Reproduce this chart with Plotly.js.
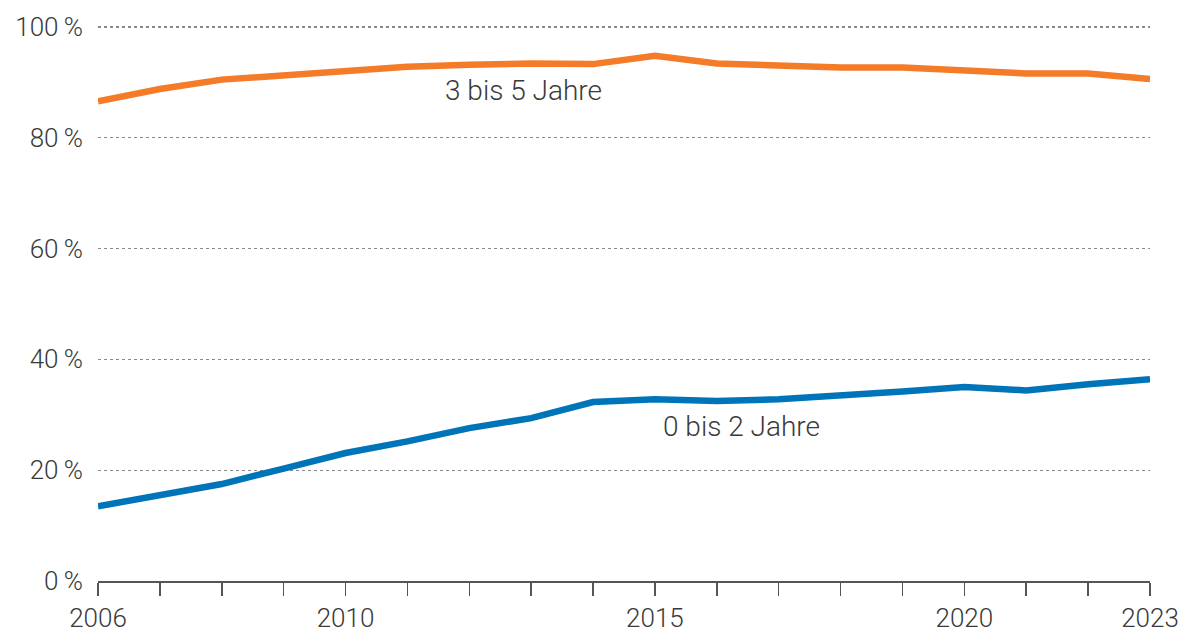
<!DOCTYPE html>
<html>
<head>
<meta charset="utf-8">
<script src="https://cdn.plot.ly/plotly-3.0.1.min.js"></script>
<style>html,body{margin:0;padding:0;background:#fff;}#chart{width:1191px;height:632px;}</style>
</head>
<body>
<div id="chart"></div>
<script>
const years = [2006,2007,2008,2009,2010,2011,2012,2013,2014,2015,2016,2017,2018,2019,2020,2021,2022,2023];
const age3to5 = [86.6,88.8,90.5,91.3,92.1,92.8,93.2,93.4,93.3,94.8,93.4,93.1,92.7,92.7,92.2,91.6,91.6,90.6];
const age0to2 = [13.5,15.5,17.5,20.3,23.1,25.2,27.6,29.4,32.3,32.8,32.5,32.8,33.4,34.2,35.0,34.4,35.5,36.4];
const seriesNames = ["3 bis 5 Jahre","0 bis 2 Jahre"];
const xTickLabels = {2006:"2006",2010:"2010",2015:"2015",2020:"2020",2023:"2023"};
const yTicks = [0,20,40,60,80,100];

const FONT = "Roboto, 'Open Sans', sans-serif";
const TXT = "#3a3a3a";

const traces = [
  {x: years, y: age3to5, name: seriesNames[0], mode: "lines", line: {color: "#F47B28", width: 6.5}, hoverinfo: "skip"},
  {x: years, y: age0to2, name: seriesNames[1], mode: "lines", line: {color: "#0074B8", width: 6.5}, hoverinfo: "skip"}
];

const layout = {
  width: 1191, height: 632,
  margin: {l: 98, r: 41, t: 21, b: 51, pad: 0},
  paper_bgcolor: "#fff", plot_bgcolor: "#fff",
  showlegend: false,
  font: {family: FONT, color: TXT, size: 26, weight: 300},
  xaxis: {
    range: [2006, 2023],
    tickmode: "array",
    tickvals: years,
    ticktext: years.map(y => xTickLabels[y] || ""),
    ticks: "outside", ticklen: 13, tickwidth: 1.5, tickcolor: "#555",
    showline: true, linecolor: "#555", linewidth: 1.5,
    showgrid: false, zeroline: false,
    tickfont: {family: FONT, size: 26, color: TXT, weight: 300},
    fixedrange: true
  },
  yaxis: {
    range: [0, 101.08],
    tickmode: "array",
    tickvals: yTicks,
    ticktext: yTicks.map(v => v + "\u2009%"),
    ticks: "", ticklabelstandoff: 14,
    showgrid: true, gridcolor: "#8a8a8a", gridwidth: 1.2, griddash: "3px,3px",
    zeroline: false, showline: false,
    tickfont: {family: FONT, size: 26, color: TXT, weight: 300},
    fixedrange: true
  },
  annotations: [
    {x: 2012.87, y: 88.6, xref: "x", yref: "y", text: seriesNames[0], showarrow: false,
     font: {family: FONT, size: 28, color: TXT, weight: 300}},
    {x: 2016.4, y: 27.8, xref: "x", yref: "y", text: seriesNames[1], showarrow: false,
     font: {family: FONT, size: 28, color: TXT, weight: 300}}
  ]
};

Plotly.newPlot("chart", traces, layout, {displayModeBar: false, staticPlot: true});
</script>
</body>
</html>
